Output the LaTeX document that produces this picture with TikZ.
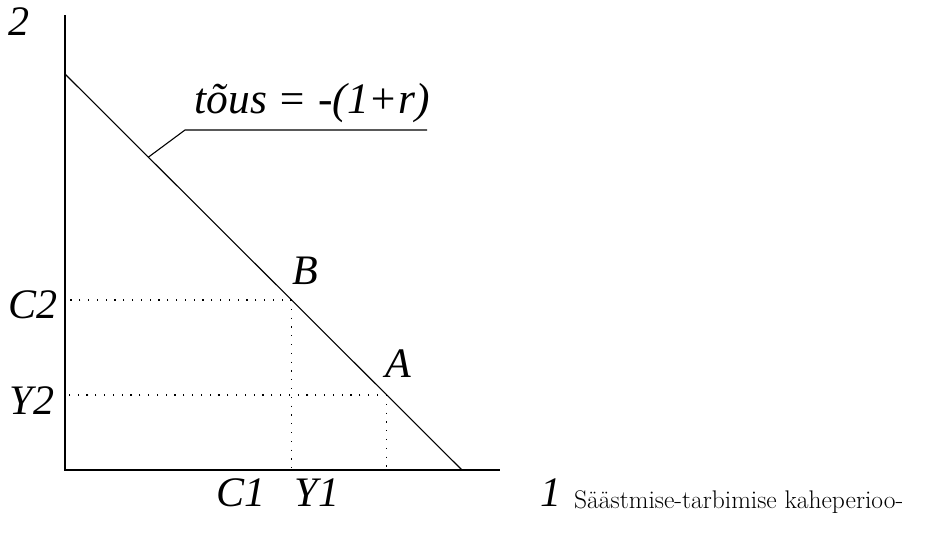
\documentclass[tikz,border=0pt]{standalone}
\usepackage{fontspec}
\setmainfont{Liberation Serif}
\newfontfamily\lmfont{Latin Modern Roman}
\usetikzlibrary{calc,positioning}

\begin{document}
\begin{tikzpicture}[x=1pt,y=-1pt,font=\rmfamily\itshape\fontsize{42}{46}\selectfont,
  axis/.style={line width=1.3pt},
  guide/.style={line width=1.2pt,dash pattern=on 1.2pt off 7.6pt},
  lbl/.style={inner sep=0pt}]
\useasboundingbox (0,0) rectangle (925,542);
% axes and budget line
\coordinate (origin) at (65,470);
\coordinate (ytip) at (65,15);
\coordinate (xtip) at (500,470);
\coordinate (btop) at (65,74);
\coordinate (bbot) at (462,470);
\coordinate (B) at ($(btop)!0.5707!(bbot)$);
\coordinate (A) at ($(btop)!0.8106!(bbot)$);
\coordinate (lead) at ($(btop)!0.21!(bbot)$);
\draw[axis] (ytip) -- (origin) -- (xtip);
\draw[line width=1.1pt] (btop) -- (bbot);
% dotted guides
\draw[guide] (B) -- (B -| origin);
\draw[guide] (B) -- (B |- origin);
\draw[guide] (A) -- (A -| origin);
\draw[guide] (A) -- (A |- origin);
% labels
\node[lbl] (lbltwo) at (19,22) {2};
\node[lbl] (lblone) at (551,493) {1};
\node[lbl] (lblC2) at (33,305) {C2};
\node[lbl] (lblY2) at (32,401) {Y2};
\node[lbl] (lblC1) at (241,493) {C1};
\node[lbl] (lblY1) at (317,493) {Y1};
\node[lbl] (lblB) at (305,271) {B};
\node[lbl] (lblA) at (398,364) {A};
\node[lbl,anchor=south,font=\rmfamily\itshape\fontsize{43.5}{48}\selectfont] (slope) at (312,123) {tõus = -(1+r)};
\coordinate (kink) at (185,130);
\coordinate (lend) at (427,130);
\draw[line width=1.1pt] (lead) -- (kink) -- (lend);
\node[lbl,anchor=base west,font=\lmfont\fontsize{25.5}{28}\selectfont] (caption) at (574,508) {Säästmise-tarbimise kaheperioo-};
\end{tikzpicture}
\end{document}
